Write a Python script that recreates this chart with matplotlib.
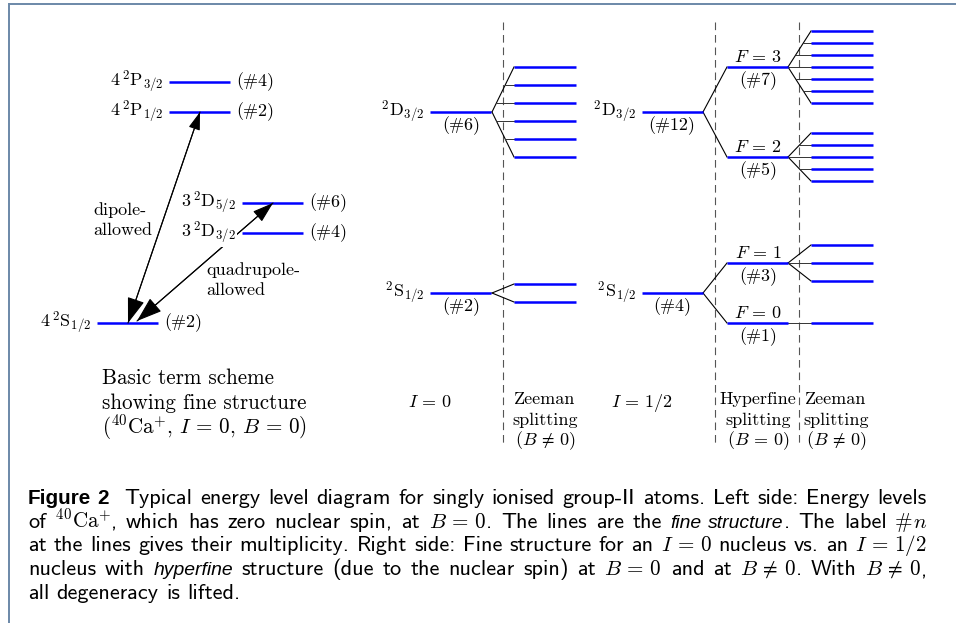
import re

import matplotlib
matplotlib.use("Agg")
import matplotlib.pyplot as plt
from matplotlib.patches import FancyArrowPatch
import numpy as np

plt.rcParams["mathtext.fontset"] = "cm"
plt.rcParams["lines.scale_dashes"] = False

# ---- Daten ------------------------------------------------------------
# linkes Termschema 40Ca+ (Niveauhoehe in Diagrammeinheiten, klein = oben)
fs_terms = [r"$4\,{}^2\mathrm{P}_{3/2}$", r"$4\,{}^2\mathrm{P}_{1/2}$",
            r"$3\,{}^2\mathrm{D}_{5/2}$", r"$3\,{}^2\mathrm{D}_{3/2}$",
            r"$4\,{}^2\mathrm{S}_{1/2}$"]
fs_level = [82, 112, 203, 233, 323]
fs_mult = [4, 2, 6, 4, 2]
fs_column = [1, 1, 2, 2, 0]

# rechte Seite: Feinstruktur, Hyperfein, Zeeman
rs_terms = [r"${}^2\mathrm{D}_{3/2}$", r"${}^2\mathrm{S}_{1/2}$"]
rs_level = [112, 293]
mult_i0 = [6, 2]
mult_i12 = [12, 4]
hf_F = [[3, 2], [1, 0]]
hf_level = [[67, 157], [263, 323]]
zeeman_step_i0 = [18, 18]
zeeman_step_hf = [12, 18]

W, H = 956, 623
BLUE = "#0000ff"
TFS = 13          # Schriftgroesse im Diagramm
BFS = 15.2        # "Basic term scheme"
CM = "cmr10"

fig = plt.figure(figsize=(W / 100, H / 100), dpi=100)
ax = fig.add_axes([0, 0, 1, 1])
ax.set_xlim(0, W)
ax.set_ylim(H, 0)
ax.axis("off")


def level(x0, y, length=61):
    ax.plot([x0, x0 + length], [y, y], color=BLUE, lw=1.8, solid_capstyle="butt", zorder=3)


def fan(x0, y0, x1, ys):
    # Aufspaltung: zwei Diagonalen, innere Niveaus waagerecht angeschlossen
    top, bot = min(ys), max(ys)
    for yy in (top, bot):
        if yy != y0:
            ax.plot([x0, x1], [y0, yy], color="k", lw=0.8, zorder=2)
    for yy in ys:
        if yy in (top, bot) and yy != y0:
            continue
        if yy == y0:
            xs = x0
        elif yy < y0:
            xs = x0 + (x1 - x0) * (yy - y0) / (top - y0)
        else:
            xs = x0 + (x1 - x0) * (yy - y0) / (bot - y0)
        ax.plot([xs, x1], [yy, yy], color="#333333", lw=0.7, zorder=2)


def sublevels(center, n, step):
    return center + (np.arange(n) - (n - 1) / 2) * step


def mult_label(n):
    return "(#%d)" % n


# ---- linkes Termschema -------------------------------------------------
col_x = [97, 169, 242]
for term, y, n, c in zip(fs_terms, fs_level, fs_mult, fs_column):
    x0 = col_x[c]
    level(x0, y)
    bb = dict(facecolor="white", edgecolor="none", pad=0.5) if c == 2 else None
    ax.text(x0 - 6, y + 4.5, term, ha="right", va="baseline", fontsize=TFS,
            family=CM, bbox=bb, zorder=5)
    ax.text(x0 + 67, y + 4.5, mult_label(n), ha="left", va="baseline",
            fontsize=TFS, family=CM)

s_x = [128, 137]
def arrow(p, q, hl, hw):
    a = FancyArrowPatch(p, q, arrowstyle="-|>,head_length=%g,head_width=%g" % (hl, hw),
                        mutation_scale=1, lw=0.8, color="k", shrinkA=0, shrinkB=0, zorder=4)
    ax.add_patch(a)

pS = (s_x[0], fs_level[4])
pP = (200, fs_level[1])
arrow(pS, pP, 11, 3.6)
arrow(pP, pS, 16, 5.5)
qS = (s_x[1], fs_level[4] - 2)
qD = (273, fs_level[2])
arrow(qS, qD, 13, 4.2)
arrow(qD, qS, 16, 5.5)

ax.text(93, 215, "dipole-", fontsize=TFS, family=CM, va="baseline")
ax.text(93, 235, "allowed", fontsize=TFS, family=CM, va="baseline")
ax.text(206, 275, "quadrupole-", fontsize=TFS, family=CM, va="baseline")
ax.text(206, 295, "allowed", fontsize=TFS, family=CM, va="baseline")

ax.text(102, 384, "Basic term scheme", fontsize=BFS, family=CM, va="baseline")
ax.text(102, 409, "showing fine structure", fontsize=BFS, family=CM, va="baseline")
ax.text(102, 434, r"(${}^{40}\mathrm{Ca}^{+}$, $I\,=\,0$, $B\,=\,0$)", fontsize=BFS,
        family=CM, va="baseline")

# ---- rechte Seite ------------------------------------------------------
for xd in (503, 715, 799):
    ax.plot([xd, xd], [22, 445], color="#555555", lw=0.8, ls=(0, (5.5, 3.5)), zorder=1)

for i, (term, y) in enumerate(zip(rs_terms, rs_level)):
    # I = 0
    level(430, y)
    ax.text(424, y + 4.5, term, ha="right", va="baseline", fontsize=TFS, family=CM)
    ax.text(461, y + 18, mult_label(mult_i0[i]), ha="center", va="baseline",
            fontsize=TFS, family=CM)
    ys = sublevels(y, mult_i0[i], zeeman_step_i0[i])
    fan(492, y, 514, ys)
    for yy in ys:
        level(514, yy, 62)

    # I = 1/2
    level(642, y)
    ax.text(636, y + 4.5, term, ha="right", va="baseline", fontsize=TFS, family=CM)
    ax.text(672, y + 18, mult_label(mult_i12[i]), ha="center", va="baseline",
            fontsize=TFS, family=CM)
    fan(703, y, 727, hf_level[i])
    for F, yf in zip(hf_F[i], hf_level[i]):
        level(727, yf)
        ax.text(758, yf - 5, r"$F\,=\,%d$" % F, ha="center", va="baseline",
                fontsize=TFS, family=CM)
        ax.text(758, yf + 18, mult_label(2 * F + 1), ha="center", va="baseline",
                fontsize=TFS, family=CM)
        ys = sublevels(yf, 2 * F + 1, zeeman_step_hf[i])
        fan(788, yf, 811, ys)
        for yy in ys:
            level(811, yy, 62)

ax.text(430, 407, r"$I\,=\,0$", ha="center", va="baseline", fontsize=TFS, family=CM)
ax.text(642, 407, r"$I\,=\,1/2$", ha="center", va="baseline", fontsize=TFS, family=CM)
headers = [(545, ["Zeeman", "splitting", r"($B\,\neq\,0$)"]),
           (758, ["Hyperfine", "splitting", r"($B\,=\,0$)"]),
           (836, ["Zeeman", "splitting", r"($B\,\neq\,0$)"])]
for xc, lines in headers:
    for yb, s in zip([404, 425, 445], lines):
        ax.text(xc, yb, s, ha="center", va="baseline", fontsize=TFS, family=CM)

# ---- Rahmen ------------------------------------------------------------
ax.plot([9.5, 9.5], [3, H], color="#6b88a8", lw=1.4, solid_capstyle="butt")
ax.plot([9, W], [3.5, 3.5], color="#6b88a8", lw=1.4, solid_capstyle="butt")

# ---- Bildunterschrift (Blocksatz) --------------------------------------
CFS = 16
REG = dict(family="cmss10", fontsize=CFS)
BOLD = dict(family="Liberation Sans", fontweight="bold", fontsize=CFS * 0.93)
ITA = dict(family="Liberation Sans", fontstyle="italic", fontsize=CFS * 0.87)
MATH = dict(family=CM, fontsize=CFS * 0.95)

renderer = fig.canvas.get_renderer()


def width(s, kw):
    t = ax.text(0, 0, s, **kw)
    w = t.get_window_extent(renderer).width
    t.remove()
    return w


def tokens(runs):
    items = []
    for s, kw in runs:
        for part in re.split(r"( +)", s):
            if not part:
                continue
            if part.startswith(" "):
                items.append(("sp", len(part), kw))
            else:
                items.append(("w", part, kw))
    return items


def draw_line(x, y, runs, right=None):
    items = tokens(runs)
    widths, nsp = [], 0
    for kind, v, kw in items:
        if kind == "w":
            widths.append(width(v, kw))
        else:
            widths.append(v * (width("x x", kw) - width("xx", kw)))
            nsp += v
    extra = 0.0
    if right is not None and nsp:
        extra = (right - x - sum(widths)) / nsp
    for (kind, v, kw), w in zip(items, widths):
        if kind == "w":
            ax.text(x, y, v, ha="left", va="baseline", **kw)
            x += w
        else:
            x += w + v * extra


caption = [
    [("Figure 2", BOLD), ("  Typical energy level diagram for singly ionised group-II atoms. Left side: Energy levels", REG)],
    [("of ", REG), (r"${}^{40}\mathrm{Ca}^{+}$", MATH), (", which has zero nuclear spin, at ", REG),
     (r"$B\,=\,0$", MATH), (". The lines are the ", REG), ("fine structure", ITA), (". The label ", REG),
     ("#", MATH), (r"$n$", MATH)],
    [("at the lines gives their multiplicity. Right side: Fine structure for an ", REG), (r"$I\,=\,0$", MATH),
     (" nucleus vs. an ", REG), (r"$I\,=\,1/2$", MATH)],
    [("nucleus with ", REG), ("hyperfine", ITA), (" structure (due to the nuclear spin) at ", REG),
     (r"$B\,=\,0$", MATH), (" and at ", REG), (r"$B\,\neq\,0$", MATH), (". With ", REG),
     (r"$B\,\neq\,0$", MATH), (",", REG)],
    [("all degeneracy is lifted.", REG)],
]
for k, runs in enumerate(caption):
    right = 927 if k < len(caption) - 1 else None
    draw_line(28, 504 + 23.7 * k, runs, right)

fig.savefig("out.png", dpi=100)
